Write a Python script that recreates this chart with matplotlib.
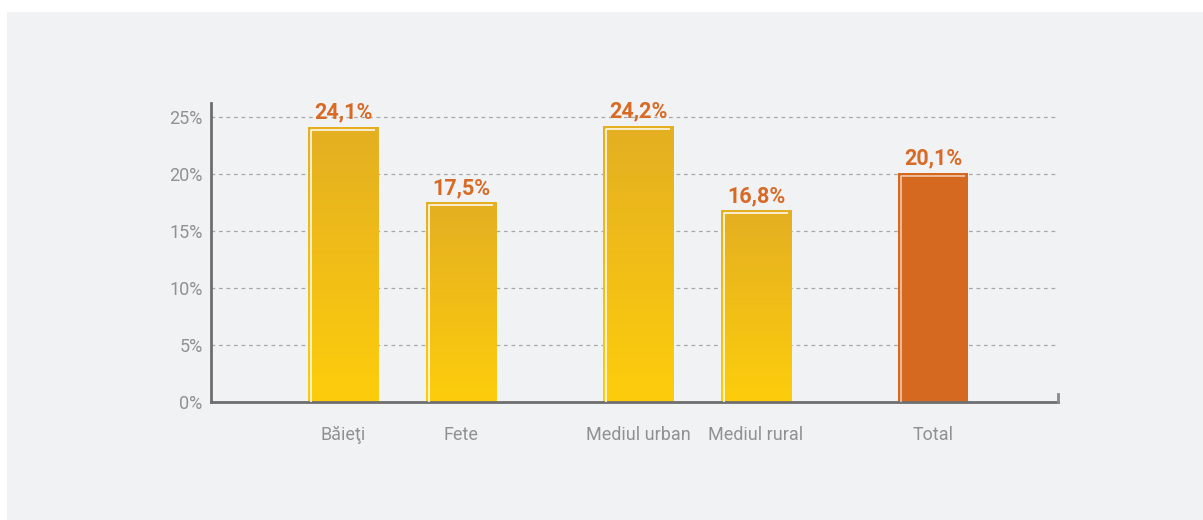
import numpy as np
import matplotlib.pyplot as plt
from matplotlib.patches import Rectangle
from matplotlib.colors import LinearSegmentedColormap

# shares by group (%)
categories = ['Băieţi', 'Fete', 'Mediul urban', 'Mediul rural', 'Total']
values = [24.1, 17.5, 24.2, 16.8, 20.1]
value_labels = ['24,1%', '17,5%', '24,2%', '16,8%', '20,1%']
positions = [0, 1, 2.5, 3.5, 5]
yticks = [0, 5, 10, 15, 20, 25]
ytick_labels = ['0%', '5%', '10%', '15%', '20%', '25%']

BG = '#f1f2f4'
ORANGE = '#d4691f'
LABEL_ORANGE = '#d86a25'
gold = LinearSegmentedColormap.from_list('gold', ['#fdcd0c', '#e4af22'])

plt.rcParams['font.family'] = ['Roboto', 'DejaVu Sans']

fig = plt.figure(figsize=(12.03, 5.2), dpi=100, facecolor='white')
fig.patches.append(Rectangle((7 / 1203, 0), 1, 1 - 12 / 520, transform=fig.transFigure,
                             facecolor=BG, edgecolor='none', zorder=-10))

ax = fig.add_axes([211 / 1203, 118 / 520, 847 / 1203, 299 / 520])
ax.set_zorder(1)
ax.set_facecolor('none')
ax.set_xlim(-1.119, 6.06)
ax.set_ylim(0, 26.2)

width = 0.595
xpx = 118.0   # pixels per x unit
ypx = 11.4    # pixels per y unit
for i, (x, v) in enumerate(zip(positions, values)):
    x0 = x - width / 2
    if i < 4:
        bar = ax.bar(x, v, width=width, color='none', edgecolor='none', zorder=2)[0]
        grad = np.linspace(0, 1, 256).reshape(-1, 1)
        im = ax.imshow(grad, cmap=gold, aspect='auto', origin='lower',
                       extent=(x0, x0 + width, 0, v), zorder=2)
        im.set_clip_path(bar)
        hl = 'white'
    else:
        ax.bar(x, v, width=width, color=ORANGE, edgecolor='none', zorder=2)
        hl = '#f5d0b8'
    # inner highlight line on left and top edges
    ix = x0 + 3 / xpx
    iy = v - 3 / ypx
    ax.plot([ix, ix, x0 + width - 3 / xpx], [0, iy, iy], color=hl, lw=1.1,
            solid_capstyle='butt', zorder=3)
    ax.text(x, v + 0.3, value_labels[i], ha='center', va='bottom', fontsize=15.5,
            fontweight='bold', color=LABEL_ORANGE, zorder=4)

ax.set_yticks(yticks)
ax.set_yticklabels(ytick_labels)
ax.set_xticks(positions)
ax.set_xticklabels(categories)
ax.tick_params(axis='y', length=0, pad=6, labelsize=13, labelcolor='#919191')
ax.tick_params(axis='x', length=0, pad=17, labelsize=13, labelcolor='#919191')

ax.yaxis.grid(True, color='#a8a8a8', linestyle=(0, (3, 3)), lw=0.9, zorder=1)
ax.set_axisbelow(True)
for s in ['top', 'right']:
    ax.spines[s].set_visible(False)
ax.spines['left'].set_color('#6e6e6e')
ax.spines['left'].set_linewidth(2)
ax.spines['bottom'].set_color('#6e6e6e')
ax.spines['bottom'].set_linewidth(2)
# small end tick at right of baseline
ax.plot([1, 1], [0, 8 / 299], transform=ax.transAxes, color='#8a8a8a', lw=2,
        clip_on=False, zorder=5)

fig.savefig('out.png', dpi=100, facecolor=fig.get_facecolor())
